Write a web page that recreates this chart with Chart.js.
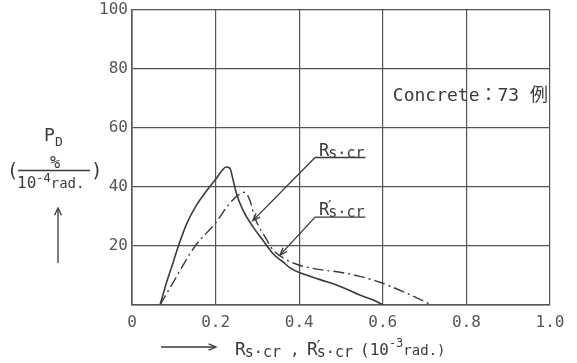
<!DOCTYPE html>
<html>
<head>
<meta charset="utf-8">
<script src="https://cdn.jsdelivr.net/npm/chart.js@4/dist/chart.umd.min.js"></script>
<style>
  html, body { margin: 0; padding: 0; background: #fff; }
  canvas { display: block; }
</style>
</head>
<body>
<canvas id="chart" width="577" height="363"></canvas>
<script>
// axis ticks
const xTicks = [0, 0.2, 0.4, 0.6, 0.8, 1.0];
const xTickLabels = ["0", "0.2", "0.4", "0.6", "0.8", "1.0"];
const yTicks = [0, 20, 40, 60, 80, 100];
const yTickLabels = ["", "20", "40", "60", "80", "100"];

// Rs.cr distribution (solid)
const rsX = [0.067, 0.083, 0.099, 0.111, 0.131, 0.155, 0.179, 0.200, 0.215, 0.225, 0.234,
             0.242, 0.250, 0.266, 0.290, 0.314, 0.338, 0.362, 0.378, 0.402, 0.450, 0.498,
             0.545, 0.577, 0.601];
const rsY = [0, 7.8, 14.7, 20, 27.6, 34.0, 38.8, 42.6, 45.5, 46.8, 46.4,
             42.3, 37.7, 32.0, 26.4, 21.8, 17.3, 14.5, 12.6, 10.9, 8.6, 6.3,
             3.4, 1.7, 0];

// R's.cr distribution (dash-dot)
const rspX = [0.067, 0.100, 0.151, 0.200, 0.230, 0.258, 0.266, 0.274, 0.282, 0.294, 0.322,
              0.337, 0.370, 0.402, 0.450, 0.498, 0.545, 0.593, 0.657, 0.717];
const rspY = [0, 8.0, 20, 27.8, 33.8, 37.7, 38.2, 37.7, 35.5, 29.6, 22.2,
              18.7, 15.3, 13.4, 12.0, 11.1, 9.7, 7.7, 4.0, 0];

const toPoints = (xs, ys) => xs.map((x, i) => ({ x: x, y: ys[i] }));

const INK = "#3a3a3a";
const MONO = "'DejaVu Sans Mono', 'Noto Sans CJK JP', monospace";

// draws a run of [text, size, raise] pieces left to right, returns end x
function textRun(ctx, parts, x, y) {
  parts.forEach(([t, size, raise]) => {
    ctx.font = size + "px " + MONO;
    ctx.fillText(t, x, y - (raise || 0));
    x += ctx.measureText(t).width;
  });
  return x;
}

function line(ctx, pts) {
  ctx.beginPath();
  ctx.moveTo(pts[0][0], pts[0][1]);
  for (let i = 1; i < pts.length; i++) ctx.lineTo(pts[i][0], pts[i][1]);
  ctx.stroke();
}

// open arrow head at (x, y) coming from (fx, fy)
function arrowHead(ctx, fx, fy, x, y, len, spread) {
  const a = Math.atan2(y - fy, x - fx);
  line(ctx, [
    [x - len * Math.cos(a - spread), y - len * Math.sin(a - spread)],
    [x, y],
    [x - len * Math.cos(a + spread), y - len * Math.sin(a + spread)]
  ]);
}

// "R" + optional prime + "s·cr" subscript
function rsLabel(ctx, x, y, big, small, prime) {
  ctx.font = big + "px " + MONO;
  ctx.fillText("R", x, y);
  let cx = x + ctx.measureText("R").width - 1;
  if (prime) {
    ctx.font = (big - 2) + "px " + MONO;
    ctx.fillText("\u2032", cx - 3, y - 3);
  }
  ctx.font = small + "px " + MONO;
  ctx.fillText("s\u00b7cr", cx, y + 2);
  return cx + ctx.measureText("s\u00b7cr").width;
}

// leader labels in data units: underline start and arrow tip
const leaders = [
  { prime: false, at: { x: 0.438, y: 50.0 }, tip: { x: 0.289, y: 28.6 } },
  { prime: true,  at: { x: 0.438, y: 29.8 }, tip: { x: 0.354, y: 16.9 } }
];
const noteText = "Concrete\uff1a73 \u4f8b";
const notePos = { x: 0.624, y: 71.3 };

const annotations = {
  id: "annotations",
  afterDraw(chart) {
    const ctx = chart.ctx;
    const sx = chart.scales.x, sy = chart.scales.y;
    ctx.save();
    ctx.fillStyle = INK;
    ctx.strokeStyle = INK;
    ctx.lineWidth = 1.3;
    ctx.textBaseline = "alphabetic";
    ctx.textAlign = "left";

    leaders.forEach(l => {
      const ax = sx.getPixelForValue(l.at.x), ay = sy.getPixelForValue(l.at.y);
      const tx = sx.getPixelForValue(l.tip.x), ty = sy.getPixelForValue(l.tip.y);
      const end = rsLabel(ctx, ax + 4, ay - 2, 17, 15, l.prime);
      line(ctx, [[tx, ty], [ax, ay], [end + 1, ay]]);
      arrowHead(ctx, ax, ay, tx, ty, 8, 0.35);
    });

    ctx.font = "18px " + MONO;
    ctx.fillText(noteText, sx.getPixelForValue(notePos.x), sy.getPixelForValue(notePos.y) + 6);

    // x axis title
    const base = 355;
    line(ctx, [[161, 347], [215, 347]]);
    arrowHead(ctx, 161, 347, 216, 347, 8, 0.4);
    rsLabel(ctx, 235, base, 18, 15, false);
    textRun(ctx, [[",", 16]], 290, base);
    rsLabel(ctx, 307, base, 18, 15, true);
    textRun(ctx, [["(10", 16], ["-3", 12, 8], ["rad.)", 14]], 360, base);

    // y axis title
    textRun(ctx, [["P", 18]], 44, 141);
    textRun(ctx, [["D", 13]], 55, 146);
    ctx.textAlign = "center";
    textRun(ctx, [["%", 17]], 55, 168);
    ctx.textAlign = "left";
    line(ctx, [[18, 170.5], [90, 170.5]]);
    textRun(ctx, [["(", 19]], 7, 177);
    textRun(ctx, [[")", 19]], 91, 177);
    textRun(ctx, [["10", 16], ["-4", 12, 6], ["rad.", 14]], 17, 188);
    line(ctx, [[58, 209], [58, 263]]);
    arrowHead(ctx, 58, 263, 58, 208, 8, 0.45);
    ctx.restore();
  }
};

const ctx = document.getElementById("chart").getContext("2d");

new Chart(ctx, {
  type: "line",
  data: {
    datasets: [
      {
        label: "Rs\u00b7cr",
        data: toPoints(rsX, rsY),
        borderColor: INK,
        borderWidth: 1.6,
        pointRadius: 0,
        fill: false,
        cubicInterpolationMode: "monotone"
      },
      {
        label: "R's\u00b7cr",
        data: toPoints(rspX, rspY),
        borderColor: INK,
        borderWidth: 1.4,
        borderDash: [11, 4, 2, 4],
        pointRadius: 0,
        fill: false,
        cubicInterpolationMode: "monotone"
      }
    ]
  },
  options: {
    responsive: false,
    animation: false,
    devicePixelRatio: 1,
    layout: { padding: { top: 10, right: 27, left: 0, bottom: 0 } },
    plugins: {
      legend: { display: false },
      tooltip: { enabled: false }
    },
    scales: {
      x: {
        type: "linear",
        min: 0,
        max: 1,
        afterBuildTicks: s => { s.ticks = xTicks.map(v => ({ value: v })); },
        afterFit: s => { s.height = 58; },
        grid: { color: "#555", lineWidth: 1.2, drawTicks: false },
        border: { color: "#555", width: 1.6 },
        ticks: {
          padding: 8,
          maxRotation: 0,
          autoSkip: false,
          color: "#555",
          font: { family: MONO, size: 16 },
          callback: (v, i) => xTickLabels[i]
        }
      },
      y: {
        min: 0,
        max: 100,
        afterBuildTicks: s => { s.ticks = yTicks.map(v => ({ value: v })); },
        afterFit: s => { s.width = 132; s.paddingTop = 0; s.paddingBottom = 0; },
        grid: { color: "#555", lineWidth: 1.2, drawTicks: false },
        border: { color: "#555", width: 1.6 },
        ticks: {
          padding: 4,
          autoSkip: false,
          color: "#555",
          font: { family: MONO, size: 16 },
          callback: (v, i) => yTickLabels[i]
        }
      }
    }
  },
  plugins: [annotations]
});
</script>
</body>
</html>
